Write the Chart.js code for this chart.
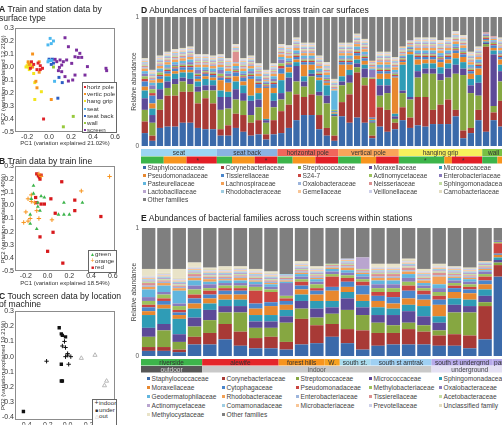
<!DOCTYPE html>
<html>
<head>
<meta charset="utf-8">
<title>Bacterial communities on transit surfaces</title>
<script src="https://cdn.jsdelivr.net/npm/chart.js@4.4.1/dist/chart.umd.min.js"></script>
<style>
  html, body { margin: 0; padding: 0; width: 502px; height: 425px; overflow: hidden; background: #fff; }
  body { position: relative; font-family: "Liberation Sans", Arial, sans-serif; color: #222; }
  canvas { position: absolute; }
  .ttl { position: absolute; font-size: 8.6px; line-height: 8.5px; white-space: nowrap; }
  .leg { position: absolute; font-size: 6.6px; line-height: 7px; color: #444; white-space: nowrap; }
  .leg i { display: inline-block; width: 3px; height: 3px; margin-right: 1.5px; vertical-align: 1px; }
  .box { position: absolute; border: 1px solid #666; background: #fff; overflow: hidden;
         font-size: 6.2px; line-height: 7.2px; color: #333; white-space: nowrap; padding-left: 1px; }
  .box i { display: inline-block; width: 2px; height: 2px; margin-right: 1px; vertical-align: 1px; }
  .box s { text-decoration: none; display: inline-block; width: 5px; font-size: 5px; text-align: center; }
  #legB, #legC { line-height: 6.6px; }
</style>
</head>
<body>
<canvas id="pcaA" width="122" height="147" style="left:0;top:0"></canvas>
<canvas id="pcaB" width="122" height="147" style="left:0;top:140px"></canvas>
<canvas id="pcaC" width="122" height="145" style="left:0;top:280px"></canvas>
<canvas id="barD" width="375" height="166" style="left:130px;top:0"></canvas>
<canvas id="barE" width="378" height="164" style="left:130px;top:210px"></canvas>

<div class="ttl" style="left:-1px;top:5px"><b>A</b> Train and station data by<br>surface type</div>
<div class="ttl" style="left:-1px;top:157px"><b>B</b> Train data by train line</div>
<div class="ttl" style="left:-1px;top:291.5px"><b>C</b> Touch screen data by location<br>of machine</div>
<div class="ttl" style="left:141px;top:5.5px"><b>D</b> Abundances of bacterial families across train car surfaces</div>
<div class="ttl" style="left:141px;top:213.5px"><b>E</b> Abundances of bacterial families across touch screens within stations</div>

<div class="box" id="legA" style="left:82px;top:82px;width:32px;height:49px"></div>
<div class="box" id="legB" style="left:88px;top:250px;width:26px;height:21px"></div>
<div class="box" id="legC" style="left:92px;top:399px;width:22px;height:30px"></div>

<script>
// ===== PCA panels (x, y) =====
const aHorizPole = [[-0.16, 0.04], [-0.14, 0.02], [-0.10, 0.03], [-0.08, 0.01], [-0.17, -0.01], [-0.08, -0.02], [-0.06, -0.01], [-0.11, -0.02], [-0.05, -0.40]];
const aVerticPole = [[-0.15, 0.10], [-0.19, 0.04], [-0.18, 0.02], [-0.15, 0.0], [-0.09, -0.04], [-0.11, -0.16], [0.02, -0.25], [-0.12, -0.11], [-0.09, 0.04]];
const aHangGrip = [[-0.20, 0.01], [-0.19, 0.0], [-0.18, -0.02], [-0.16, 0.0], [-0.17, 0.02], [-0.19, 0.03], [-0.18, 0.0], [-0.21, 0.0], [-0.14, -0.05], [-0.13, -0.12], [-0.07, -0.19], [-0.13, -0.25]];
const aSeat = [[0.01, 0.22], [0.04, 0.20], [0.02, 0.18], [-0.01, 0.17], [0.0, 0.05], [0.02, 0.05], [-0.01, 0.04], [0.05, -0.11]];
const aSeatBack = [[0.0, 0.06], [0.03, 0.06], [0.04, 0.03], [0.02, 0.02], [0.12, -0.12], [0.08, -0.24], [0.09, -0.08]];
const aWall = [[0.04, 0.0], [0.36, -0.15], [0.22, -0.38], [0.13, -0.46]];
const aScreen = [[0.145, 0.225], [0.176, 0.156], [0.25, 0.13], [0.28, 0.105], [0.236, 0.079], [0.266, 0.074], [0.297, 0.074],
  [0.10, 0.054], [0.13, 0.041], [0.16, 0.054], [0.055, 0.059], [0.07, 0.041], [0.115, 0.015], [0.094, -0.003], [0.206, 0.028],
  [0.349, 0.003], [0.518, -0.01], [0.524, -0.028], [0.115, -0.036], [0.145, -0.074], [0.236, -0.062], [0.327, -0.062],
  [0.176, -0.108], [0.215, -0.10], [0.085, -0.028]];
const aGroups = ["horiz pole", "vertic pole", "hang grip", "seat", "seat back", "wall", "screen"];

const bGreen = [[-0.13, 0.15], [-0.13, 0.09], [-0.06, 0.07], [-0.03, 0.06], [-0.15, 0.05], [0.15, 0.02], [0.32, 0.02], [-0.09, -0.01],
  [-0.07, -0.04], [-0.16, -0.07], [0.10, -0.07], [0.15, -0.07], [0.20, -0.07], [-0.16, -0.14], [-0.10, -0.18], [-0.09, 0.02]];
const bOrange = [[-0.18, 0.05], [-0.15, 0.03], [-0.12, 0.02], [-0.20, -0.05], [-0.10, -0.04], [-0.08, -0.10], [-0.22, -0.13], [-0.18, -0.12],
  [-0.16, -0.10], [0.04, -0.11], [0.31, 0.11], [0.57, 0.22], [-0.06, 0.22], [-0.08, 0.24], [-0.15, 0.08]];
const bRed = [[-0.10, 0.24], [-0.075, 0.215], [-0.085, 0.225], [-0.06, 0.23], [-0.07, 0.20], [0.13, 0.18], [-0.11, 0.06], [0.03, 0.05],
  [-0.03, 0.01], [-0.06, 0.01], [-0.10, 0.02], [0.25, 0.04], [0.25, -0.04], [0.07, -0.06], [0.49, -0.085], [0.05, -0.205],
  [-0.07, -0.24], [0.0, -0.35], [0.14, -0.44]];
const bGroups = ["green", "orange", "red"];

const cIndoor = [[-0.03, 0.10], [-0.05, 0.07], [-0.02, 0.06], [0.0, 0.02], [-0.02, 0.0], [0.03, 0.0], [0.01, -0.05], [-0.20, -0.03], [0.0, 0.01]];
const cUnder = [[-0.08, 0.19], [-0.06, 0.15], [-0.05, 0.14], [-0.02, 0.13], [-0.06, -0.05], [-0.06, -0.16], [-0.05, -0.16], [-0.42, -0.36]];
const cOut = [[0.13, -0.01], [0.26, 0.01], [0.37, -0.16], [0.35, -0.19]];
const cGroups = ["indoor", "under", "out"];

const pcTicksX = [-0.2, 0, 0.2, 0.4, 0.6];
const pcTicksY = [0.3, 0.2, 0.1, 0, -0.1, -0.2, -0.3, -0.4, -0.5];
const cTicksX = [-0.4, -0.2, 0, 0.2, 0.4];
const cTicksY = [0.3, 0.2, 0.1, 0, -0.1, -0.2, -0.3, -0.4];

// ===== D: train car surfaces (percent per sample) =====
const dSurface = ["seat", "seat back", "horizontal pole", "vertical pole", "hanging grip", "wall"];
const dSurfaceCount = [10, 8, 8, 8, 11, 3];
const dLine = ["green", "orange", "red", "green", "orange", "red", "green", "orange", "red", "green", "orange", "red", "green", "orange", "red", "green", "orange"];
const dLineCount = [3, 3, 4, 2, 3, 3, 2, 3, 3, 3, 2, 3, 6, 1, 4, 2, 1];
const dStarBars = [7, 16, 37, 42];
const dFamilies = ["Staphylococcaceae", "Corynebacteriaceae", "Streptococcaceae", "Moraxellaceae", "Micrococcaceae",
  "Pseudomonadaceae", "Tissierellaceae", "S24-7", "Actinomycetaceae", "Enterobacteriaceae",
  "Pasteurellaceae", "Lachnospiraceae", "Oxalobacteraceae", "Neisseriaceae", "Sphingomonadaceae",
  "Lactobacillaceae", "Rhodobacteraceae", "Gemellaceae", "Veillonellaceae", "Carnobacteriaceae", "Other families"];

const dStaph = [10,4,14,15,15,18,18,14,13,13, 8,8,14,11,8,9,5,9, 10,14,20,24,24,13,8,4, 23,18,22,18,6,15,11,13, 20,14,16,15,17,17,17,23,6,10,20, 11,20,15];
const dCoryne = [9,4,14,24,24,24,24,19,24,20, 5,8,11,13,10,11,4,11, 17,18,20,14,16,11,6,4, 11,22,35,29,2,15,17,5, 10,8,22,23,11,15,19,5,6,4,8, 66,6,20];
const dStrep = [9,10,8,6,9,8,6,9,6,10, 15,13,11,11,6,10,9,10, 9,10,10,8,14,15,19,15, 13,9,4,6,10,9,13,3, 11,14,15,18,28,19,17,28,43,27,11, 2,5,15];
const dMorax = [9,6,8,5,4,3,4,4,4,4, 10,9,8,6,11,6,2,5, 5,11,12,4,2,3,6,1, 3,6,3,7,1,8,6,2, 2,2,5,4,4,5,7,7,5,6,10, 1,40,8];
const dMicro = [6,5,5,4,4,4,5,4,5,4, 5,4,6,6,4,5,1,6, 10,4,3,4,3,9,8,1, 4,4,3,3,1,5,5,2, 20,33,5,4,4,5,4,5,5,5,6, 1,3,5];
const dPseudo = [3,4,3,2,2,2,2,2,2,2, 8,7,4,3,13,4,24,4, 5,4,2,9,4,2,2,1, 9,4,3,3,1,4,4,28, 2,2,4,3,3,4,3,4,4,4,5, 1,2,4];
const dTissier = [4,6,2,2,2,2,2,2,2,2, 2,3,3,3,2,3,1,3, 4,2,2,2,2,2,1,1, 2,2,2,2,1,2,2,1, 1,1,2,2,2,2,2,2,2,2,2, 1,2,2];
const dS247 = [2,2,1,1,1,1,1,1,1,1, 1,1,1,1,1,1,1,1, 2,1,1,1,1,1,1,0, 1,1,1,1,30,1,1,1, 1,0,1,1,1,1,1,1,1,1,1, 1,1,1];
const dActino = [2,3,2,1,1,1,1,1,1,1, 2,1,1,1,1,1,1,1, 2,1,1,1,1,1,1,1, 1,1,1,1,1,1,1,1, 1,1,1,1,1,1,1,1,1,1,1, 1,1,1];
const dEntero = [2,3,1,1,1,1,2,3,1,1, 3,2,1,1,2,2,1,2, 3,1,1,1,1,1,1,0, 1,1,1,1,6,1,1,1, 1,1,1,1,1,1,1,1,1,1,1, 1,1,1];
const dPasteur = [2,2,2,2,2,2,2,2,2,2, 2,2,2,2,2,2,1,2, 2,2,2,2,2,2,2,15, 2,2,2,2,1,2,2,2, 1,1,2,2,2,2,2,2,2,2,2, 0,1,2];
const dLachno = [2,2,2,2,2,2,2,2,2,2, 2,2,2,2,2,2,1,2, 2,2,2,2,2,2,2,1, 2,2,2,2,1,2,2,2, 1,1,2,2,2,2,2,2,2,2,2, 0,1,2];
const dOxalo = [1,1,1,1,1,1,1,1,1,1, 1,1,1,1,1,1,1,1, 1,1,1,1,1,1,1,1, 1,1,1,1,1,1,1,1, 1,1,1,1,1,1,1,1,1,1,1, 1,1,1];
const dNeisser = [1,1,1,1,1,1,1,1,1,1, 1,1,8,1,1,1,1,1, 1,1,1,1,1,1,1,1, 1,1,1,1,1,1,1,1, 1,1,1,1,1,1,1,1,1,1,1, 1,1,1];
const dSphingo = [1,1,1,1,1,1,1,1,1,1, 1,1,1,1,1,1,1,1, 1,1,1,1,1,1,1,1, 1,1,1,1,1,1,1,1, 1,1,1,1,1,1,1,1,1,1,1, 0,0,1];
const dLacto = [1,1,1,1,1,1,1,1,1,1, 1,1,1,1,1,1,1,1, 1,1,1,1,1,1,1,1, 1,1,1,1,1,1,1,1, 1,1,1,1,1,1,1,1,1,1,1, 0,0,1];
const dRhodo = [1,1,1,1,1,1,1,1,1,1, 1,1,1,1,1,1,1,1, 1,1,1,1,1,1,1,1, 1,1,1,1,0,1,1,1, 1,0,1,1,1,1,1,1,1,1,1, 0,0,1];
const dGemell = [1,1,1,1,1,1,1,1,1,1, 1,1,1,1,1,1,1,1, 1,1,1,1,1,1,1,1, 1,1,1,1,1,1,1,1, 1,0,1,1,1,1,1,1,1,1,1, 0,0,1];
const dVeillon = [1,1,1,1,1,1,1,1,1,1, 1,1,1,1,1,1,1,1, 1,1,1,1,1,1,1,1, 1,1,1,1,0,1,1,1, 0,0,1,1,1,1,1,1,1,1,1, 0,0,1];
const dCarno = [1,1,1,1,1,1,1,1,1,1, 1,1,1,1,1,1,1,1, 1,1,1,1,1,1,1,1, 1,1,1,1,0,1,1,1, 0,0,1,1,1,1,1,1,1,1,1, 0,0,1];
const dOther = [32,41,30,27,25,24,23,29,29,30, 29,32,21,32,30,36,41,36, 21,22,16,20,20,30,35,48, 20,20,13,17,34,27,27,31, 23,18,16,16,16,18,16,11,14,27,23, 12,15,16];

// ===== E: touch screens within stations (percent per sample) =====
const eStation = ["riverside", "alewife", "forest hills", "W.", "south st.", "south st amtrak", "south st undergrnd", "park"];
const eStationCount = [4, 5, 3, 1, 2, 4, 4, 1];
const eType = ["outdoor", "indoor", "underground"];
const eTypeCount = [4, 15, 5];
const eFamilies = ["Staphylococcaceae", "Corynebacteriaceae", "Streptococcaceae", "Micrococcaceae", "Sphingomonadaceae",
  "Moraxellaceae", "Cytophagaceae", "Pseudomonadaceae", "Methylobacteriaceae", "Oxalobacteraceae",
  "Geodermatophilaceae", "Rhodobacteraceae", "Enterobacteriaceae", "Tissierellaceae", "Acetobacteraceae",
  "Actinomycetaceae", "Comamonadaceae", "Microbacteriaceae", "Prevotellaceae", "Unclassified family",
  "Methylocystaceae", "Other families"];

const eStaph = [4,4,3,9,9,13,8,6,6,5,9,10,15,10,5,8,9,9,9,8,8,6,13,62];
const eCoryne = [3,3,2,6,9,12,11,8,9,6,20,14,10,11,15,10,9,12,10,8,9,10,26,9];
const eStrep = [8,13,6,8,10,9,15,8,7,15,8,6,8,15,12,8,6,5,5,4,17,18,3,2];
const eMicro = [7,5,6,7,8,5,5,5,5,5,6,7,5,9,6,6,8,9,7,6,6,5,5,2];
const eSphingo = [10,12,12,7,5,5,5,5,5,5,5,6,5,5,5,6,5,5,8,5,5,5,5,2];
const eMorax = [3,3,3,4,4,4,4,5,7,4,4,5,8,4,5,5,4,5,5,9,5,5,4,2];
const eCyto = [3,3,2,4,3,3,3,4,3,3,3,3,3,4,7,4,5,6,4,4,3,3,3,1];
const ePseudo = [2,2,2,3,3,2,2,10,8,2,3,2,8,3,3,3,4,4,3,3,2,2,3,8];
const eMethylobact = [3,3,3,4,2,2,2,3,2,2,2,3,2,2,2,3,3,3,2,3,2,2,2,1];
const eOxalo = [3,2,2,3,3,2,2,2,2,10,2,2,2,2,2,3,3,3,2,3,2,2,2,1];
const eGeoderm = [6,5,10,4,2,2,2,2,2,1,2,2,2,2,2,3,3,3,2,3,2,2,1,0];
const eRhodo = [2,2,2,2,2,1,2,1,1,1,1,1,1,2,1,2,2,2,2,6,1,1,1,0];
const eEntero = [1,1,1,1,1,1,1,1,1,1,1,1,1,1,1,1,1,1,1,1,1,1,1,0];
const eTissier = [2,1,1,2,1,1,1,1,1,1,1,1,1,1,1,2,2,2,1,2,1,1,1,0];
const eAceto = [1,1,1,1,1,1,1,1,1,1,1,1,1,1,1,1,1,1,1,1,1,1,1,0];
const eActino = [1,1,1,1,1,1,1,1,1,1,1,1,0,1,9,1,1,1,1,1,1,1,1,0];
const eComa = [1,1,1,1,1,1,1,1,1,1,1,1,0,1,0,1,1,1,1,1,1,1,1,0];
const eMicrobact = [1,1,1,1,1,1,1,1,1,0,1,1,0,1,0,1,1,1,1,1,1,1,1,0];
const ePrevot = [1,1,1,1,1,1,1,1,1,0,1,1,0,1,0,1,1,1,1,1,1,1,0,0];
const eUnclass = [1,1,1,1,1,1,1,1,1,0,1,1,0,0,0,1,1,1,1,1,1,1,0,0];
const eMethylocyst = [5,3,7,3,1,2,1,1,1,0,1,1,0,0,0,2,2,1,1,1,0,0,0,0];
const eOther = [32,32,32,27,31,30,30,32,34,36,26,30,28,24,23,28,28,24,32,28,30,31,26,10];

// ===== styles =====
const palette = ["#3b6aaa", "#a83a36", "#86a741", "#5d4a98", "#2f9cb6", "#e8882f", "#4a86cb", "#cb4541", "#9cc25d", "#8a7bbd",
  "#62b6de", "#f3a055", "#9db5dc", "#dc9090", "#c4dca2", "#b9a5cf", "#9fcde2", "#f8c596", "#cdd0ea", "#e2dcc0", "#e9e3c8"];
const otherGray = "#7f7f7f";
const aColors = ["#e0242b", "#f7931e", "#f2e51f", "#4cb8ef", "#2c5ec4", "#97c93d", "#7b2f9e"];
const surfaceColors = ["#9cd5f3", "#8ab3e3", "#f1665b", "#f9a55a", "#f6f05c", "#77c044"];
const lineColors = { green: "#3cb54a", orange: "#f7941d", red: "#e21f26" };
const stationColors = ["#3db54b", "#e4262a", "#f7941d", "#f8a21f", "#a9dcee", "#9fd0f3", "#b7aaea", "#b7aaea"];
const typeColors = ["#575757", "#c9c9c9", "#e4e0f3"];
const typeText = ["#dddddd", "#555555", "#444444"];
const FONT = '"Liberation Sans", Arial, sans-serif';

Chart.defaults.font.family = FONT;
Chart.defaults.color = "#333";

// box round the PCA plot area
const frame = {
  id: "frame",
  beforeDatasetsDraw(chart) {
    const a = chart.chartArea;
    const ctx = chart.ctx;
    ctx.save();
    ctx.strokeStyle = "#8c8c8c";
    ctx.lineWidth = 1;
    ctx.strokeRect(Math.round(a.left) + 0.5, Math.round(a.top) + 0.5, Math.round(a.right - a.left) - 1, Math.round(a.bottom - a.top) - 1);
    ctx.restore();
  },
};

// coloured label strips under the bars
const strips = {
  id: "strips",
  afterDraw(chart, args, opts) {
    const x = chart.scales.x;
    const ctx = chart.ctx;
    const step = x.getPixelForValue(1) - x.getPixelForValue(0);
    const base = chart.chartArea.bottom;
    ctx.save();
    ctx.textAlign = "center";
    ctx.textBaseline = "middle";
    ctx.font = "6.5px " + FONT;
    opts.rows.forEach((row) => {
      let i = 0;
      row.runs.forEach((run) => {
        const x0 = x.getPixelForValue(i) - step / 2;
        const x1 = x.getPixelForValue(i + run.n - 1) + step / 2;
        ctx.fillStyle = run.color;
        ctx.fillRect(x0, base + row.y, x1 - x0, row.h);
        if (run.text) {
          ctx.fillStyle = run.textColor || "#333";
          ctx.fillText(run.text, (x0 + x1) / 2, base + row.y + row.h / 2 + 0.5);
        }
        i += run.n;
      });
    });
    (opts.stars || []).forEach((b) => {
      const row = opts.rows[1];
      ctx.fillStyle = "#333";
      ctx.fillText("*", x.getPixelForValue(b), base + row.y + row.h / 2 + 1.5);
    });
    ctx.restore();
  },
};

function pts(arr, color, style, r, hollow) {
  return {
    data: arr.map((p) => ({ x: p[0], y: p[1] })),
    pointStyle: style,
    pointRadius: r,
    pointBackgroundColor: hollow ? "rgba(0,0,0,0)" : color,
    pointBorderColor: color,
    pointBorderWidth: style === "cross" || hollow ? 1 : 0,
  };
}

const noGrid = { display: false, drawTicks: false, tickLength: 0 };

function pcaChart(id, sets, o) {
  new Chart(document.getElementById(id), {
    type: "scatter",
    data: { datasets: sets },
    options: {
      responsive: false,
      devicePixelRatio: 1,
      animation: false,
      layout: { padding: { top: o.top, right: 7, left: 0, bottom: 0 } },
      plugins: { legend: { display: false }, tooltip: { enabled: false } },
      scales: {
        x: {
          min: o.x[0], max: o.x[1],
          afterBuildTicks: (s) => { s.ticks = o.xt.map((v) => ({ value: v })); },
          afterFit: (s) => { s.height = o.xh; },
          grid: noGrid, border: { display: false },
          ticks: { font: { size: 7 }, padding: 1, maxRotation: 0, autoSkip: false, callback: (v) => v.toFixed(1) },
          title: { display: !!o.xTitle, text: o.xTitle, font: { size: 6 }, padding: 0 },
        },
        y: {
          min: o.y[0], max: o.y[1],
          afterBuildTicks: (s) => { s.ticks = o.yt.map((v) => ({ value: v })); },
          afterFit: (s) => { s.width = 15; },
          grid: noGrid, border: { display: false },
          ticks: { font: { size: 7 }, padding: 1, autoSkip: false, callback: (v) => v.toFixed(1) },
          title: { display: true, text: o.yTitle, font: { size: 6 }, padding: 0 },
        },
      },
    },
    plugins: [frame],
  });
}

function barChart(id, labels, series, colors, o) {
  new Chart(document.getElementById(id), {
    type: "bar",
    data: {
      labels: labels,
      datasets: series.map((s, i) => ({
        data: s,
        backgroundColor: colors[i],
        borderWidth: 0,
        barPercentage: o.bar,
        categoryPercentage: 1,
        stack: "all",
      })),
    },
    options: {
      responsive: false,
      devicePixelRatio: 1,
      animation: false,
      layout: { padding: { top: o.top, bottom: o.bottom, left: 0, right: 0 } },
      plugins: { legend: { display: false }, tooltip: { enabled: false }, strips: o.strips },
      scales: {
        x: { stacked: true, display: false },
        y: {
          stacked: true, min: 0, max: 100,
          afterBuildTicks: (s) => { s.ticks = [{ value: 0 }, { value: 100 }]; },
          afterFit: (s) => { s.width = 11; },
          grid: noGrid, border: { display: false },
          ticks: { font: { size: 6.5 }, color: "#555", padding: 2, callback: (v) => v / 100 },
          title: { display: true, text: "Relative abundance", font: { size: 6.6 }, color: "#444", padding: 0 },
        },
      },
    },
    plugins: [strips],
  });
}

function runsOf(names, counts, colors, textColors) {
  return names.map((n, i) => ({ n: counts[i], color: colors[i], text: n, textColor: textColors ? textColors[i] : "#333" }));
}

function addLegend(names, colors, cols, rows) {
  names.forEach((name, i) => {
    const el = document.createElement("div");
    el.className = "leg";
    el.style.left = cols[i % 5] + "px";
    el.style.top = rows[Math.floor(i / 5)] + "px";
    el.innerHTML = '<i style="background:' + colors[i] + '"></i>' + name;
    document.body.appendChild(el);
  });
}

// ===== A =====
pcaChart("pcaA", [
  pts(aHorizPole, aColors[0], "rect", 2.1),
  pts(aVerticPole, aColors[1], "rect", 2.1),
  pts(aHangGrip, aColors[2], "rect", 2.1),
  pts(aSeat, aColors[3], "rect", 2.1),
  pts(aSeatBack, aColors[4], "rect", 2.1),
  pts(aWall, aColors[5], "rect", 2.1),
  pts(aScreen, aColors[6], "rect", 2.1),
], { top: 28, xh: 15, x: [-0.31, 0.6], y: [-0.5, 0.3], xt: pcTicksX, yt: pcTicksY,
     xTitle: "PC1 (variation explained 21.02%)", yTitle: "PC2 (variation explained 12.21%)" });

document.getElementById("legA").innerHTML = aGroups
  .map((g, i) => '<i style="background:' + aColors[i] + '"></i>' + g).join("<br>");

// ===== B =====
pcaChart("pcaB", [
  pts(bGreen, "#3cb44b", "triangle", 2.2),
  pts(bOrange, "#f7941d", "cross", 2.2),
  pts(bRed, "#d7191c", "rect", 2.3),
], { top: 26, xh: 16, x: [-0.3, 0.62], y: [-0.5, 0.3], xt: pcTicksX, yt: pcTicksY,
     xTitle: "PC1 (variation explained 18.54%)", yTitle: "PC2 (variation explained 14.40%)" });

const bMarks = ['<s style="color:#3cb44b">&#9650;</s>', '<s style="color:#f7941d;font-size:7px">+</s>', '<s style="color:#d7191c">&#9632;</s>'];
document.getElementById("legB").innerHTML = bGroups.map((g, i) => bMarks[i] + g).join("<br>");

// ===== C =====
pcaChart("pcaC", [
  pts(cIndoor, "#111", "cross", 2.2),
  pts(cUnder, "#111", "rect", 2.4),
  pts(cOut, "#b8b8b8", "triangle", 2.4, true),
], { top: 31, xh: 5, x: [-0.5, 0.45], y: [-0.415, 0.3], xt: cTicksX, yt: cTicksY,
     xTitle: "", yTitle: "PC2 (variation explained 19.21%)" });

const cMarks = ['<s style="font-size:7px">+</s>', '<s>&#9632;</s>', '<s style="color:#bbb">&#9651;</s>'];
document.getElementById("legC").innerHTML = cGroups.map((g, i) => cMarks[i] + g).join("<br>");

// ===== D =====
const dLabels = [];
dSurface.forEach((s, i) => { for (let k = 0; k < dSurfaceCount[i]; k++) dLabels.push(s + " " + (k + 1)); });
const dSeries = [dStaph, dCoryne, dStrep, dMorax, dMicro, dPseudo, dTissier, dS247, dActino, dEntero,
  dPasteur, dLachno, dOxalo, dNeisser, dSphingo, dLacto, dRhodo, dGemell, dVeillon, dCarno, dOther];
const dColors = palette.slice(0, 20).concat([otherGray]);

barChart("barD", dLabels, dSeries, dColors, {
  top: 17, bottom: 20, bar: 0.83,
  strips: {
    rows: [
      { y: 3, h: 7, runs: runsOf(dSurface, dSurfaceCount, surfaceColors) },
      { y: 10.5, h: 7, runs: dLine.map((l, i) => ({ n: dLineCount[i], color: lineColors[l] })) },
    ],
    stars: dStarBars,
  },
});
addLegend(dFamilies, dColors, [143, 221, 298, 369, 439], [163.5, 171.7, 179.9, 188.1, 196.3]);

// ===== E =====
const eLabels = [];
eStation.forEach((s, i) => { for (let k = 0; k < eStationCount[i]; k++) eLabels.push(s + " " + (k + 1)); });
const eSeries = [eStaph, eCoryne, eStrep, eMicro, eSphingo, eMorax, eCyto, ePseudo, eMethylobact, eOxalo,
  eGeoderm, eRhodo, eEntero, eTissier, eAceto, eActino, eComa, eMicrobact, ePrevot, eUnclass, eMethylocyst, eOther];
const eColors = palette.slice(0, 21).concat([otherGray]);

barChart("barE", eLabels, eSeries, eColors, {
  top: 18, bottom: 18, bar: 0.88,
  strips: {
    rows: [
      { y: 3, h: 6.5, runs: runsOf(eStation, eStationCount, stationColors) },
      { y: 10, h: 6.5, runs: runsOf(eType, eTypeCount, typeColors, typeText) },
    ],
  },
});
addLegend(eFamilies, eColors, [147, 222, 296, 369, 439], [374.8, 383.8, 392.8, 401.6, 410.5]);
</script>
</body>
</html>
